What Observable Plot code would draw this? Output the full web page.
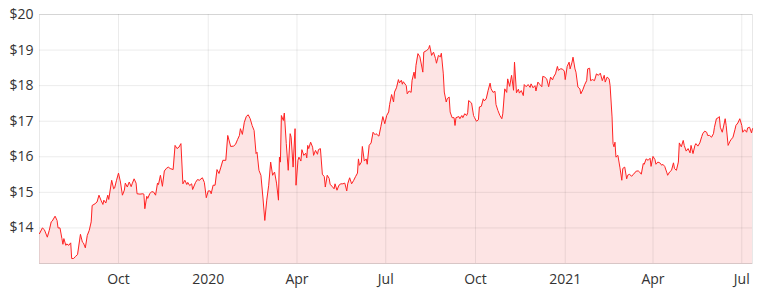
<!DOCTYPE html>
<html>
<head>
<meta charset="utf-8">
<script src="https://cdn.jsdelivr.net/npm/d3@7"></script>
<script src="https://cdn.jsdelivr.net/npm/@observablehq/plot@0.6"></script>
<style>
  html, body { margin: 0; padding: 0; background: #fff; }
  #chart svg { display: block; }
</style>
</head>
<body>
<div id="chart"></div>
<script>
const dates = [
"2019-07-12","2019-07-15","2019-07-17","2019-07-20","2019-07-22","2019-07-24","2019-07-25","2019-07-28","2019-07-30","2019-07-31",
"2019-08-02","2019-08-04","2019-08-05","2019-08-06","2019-08-08","2019-08-09","2019-08-11","2019-08-13","2019-08-14","2019-08-16",
"2019-08-18","2019-08-20","2019-08-23","2019-08-25","2019-08-26","2019-08-28","2019-08-30","2019-09-01","2019-09-03","2019-09-04",
"2019-09-07","2019-09-09","2019-09-11","2019-09-13","2019-09-15","2019-09-16","2019-09-18","2019-09-20","2019-09-21","2019-09-24",
"2019-09-26","2019-09-27","2019-09-29","2019-10-01","2019-10-03","2019-10-05","2019-10-07","2019-10-08","2019-10-10","2019-10-12",
"2019-10-14","2019-10-15","2019-10-17","2019-10-19","2019-10-20","2019-10-23","2019-10-26","2019-10-27","2019-10-28","2019-10-30",
"2019-10-31","2019-11-02","2019-11-04","2019-11-06","2019-11-08","2019-11-10","2019-11-11","2019-11-13","2019-11-15","2019-11-17",
"2019-11-19","2019-11-21","2019-11-23","2019-11-26","2019-11-28","2019-11-30","2019-12-02","2019-12-04","2019-12-06","2019-12-08",
"2019-12-10","2019-12-11","2019-12-13","2019-12-15","2019-12-16","2019-12-19","2019-12-21","2019-12-23","2019-12-26","2019-12-28",
"2019-12-30","2020-01-01","2020-01-03","2020-01-04","2020-01-06","2020-01-08","2020-01-10","2020-01-12","2020-01-14","2020-01-16",
"2020-01-19","2020-01-21","2020-01-24","2020-01-27","2020-01-29","2020-01-31","2020-02-02","2020-02-03","2020-02-05","2020-02-07",
"2020-02-09","2020-02-11","2020-02-13","2020-02-15","2020-02-17","2020-02-19","2020-02-20","2020-02-22","2020-02-24","2020-02-26",
"2020-02-28","2020-03-01","2020-03-03","2020-03-05","2020-03-07","2020-03-09","2020-03-11","2020-03-13","2020-03-14","2020-03-15",
"2020-03-16","2020-03-18","2020-03-19","2020-03-21","2020-03-23","2020-03-25","2020-03-26","2020-03-28","2020-03-30","2020-03-31",
"2020-04-02","2020-04-03","2020-04-05","2020-04-06","2020-04-08","2020-04-10","2020-04-11","2020-04-12","2020-04-13","2020-04-15",
"2020-04-17","2020-04-18","2020-04-20","2020-04-22","2020-04-23","2020-04-25","2020-04-27","2020-04-29","2020-04-30","2020-05-02",
"2020-05-04","2020-05-05","2020-05-07","2020-05-09","2020-05-10","2020-05-12","2020-05-14","2020-05-16","2020-05-18","2020-05-20",
"2020-05-22","2020-05-23","2020-05-25","2020-05-27","2020-05-29","2020-05-31","2020-06-02","2020-06-03","2020-06-04","2020-06-06",
"2020-06-07","2020-06-09","2020-06-11","2020-06-12","2020-06-14","2020-06-16","2020-06-18","2020-06-20","2020-06-21","2020-06-24",
"2020-06-26","2020-06-28","2020-06-30","2020-07-02","2020-07-04","2020-07-05","2020-07-07","2020-07-09","2020-07-10","2020-07-12",
"2020-07-14","2020-07-15","2020-07-17","2020-07-18","2020-07-19","2020-07-22","2020-07-23","2020-07-25","2020-07-27","2020-07-28",
"2020-07-30","2020-07-31","2020-08-01","2020-08-03","2020-08-05","2020-08-08","2020-08-09","2020-08-12","2020-08-14","2020-08-15",
"2020-08-17","2020-08-19","2020-08-21","2020-08-22","2020-08-24","2020-08-26","2020-08-27","2020-08-29","2020-08-30","2020-09-01",
"2020-09-02","2020-09-04","2020-09-05","2020-09-07","2020-09-09","2020-09-10","2020-09-11","2020-09-14","2020-09-15","2020-09-17",
"2020-09-18","2020-09-20","2020-09-22","2020-09-23","2020-09-24","2020-09-27","2020-09-29","2020-09-30","2020-10-02","2020-10-04",
"2020-10-05","2020-10-07","2020-10-09","2020-10-10","2020-10-12","2020-10-14","2020-10-16","2020-10-17","2020-10-19","2020-10-21",
"2020-10-22","2020-10-24","2020-10-26","2020-10-28","2020-10-29","2020-10-31","2020-11-02","2020-11-03","2020-11-05","2020-11-07",
"2020-11-09","2020-11-10","2020-11-12","2020-11-14","2020-11-15","2020-11-17","2020-11-19","2020-11-20","2020-11-22","2020-11-24",
"2020-11-26","2020-11-27","2020-11-29","2020-12-01","2020-12-02","2020-12-04","2020-12-06","2020-12-08","2020-12-09","2020-12-11",
"2020-12-13","2020-12-15","2020-12-17","2020-12-19","2020-12-20","2020-12-22","2020-12-24","2020-12-25","2020-12-27","2020-12-29",
"2020-12-31","2021-01-01","2021-01-03","2021-01-05","2021-01-06","2021-01-08","2021-01-09","2021-01-11","2021-01-12","2021-01-14",
"2021-01-16","2021-01-17","2021-01-19","2021-01-21","2021-01-23","2021-01-24","2021-01-26","2021-01-27","2021-01-29","2021-01-31",
"2021-02-02","2021-02-04","2021-02-06","2021-02-08","2021-02-10","2021-02-11","2021-02-13","2021-02-15","2021-02-16","2021-02-18",
"2021-02-19","2021-02-20","2021-02-21","2021-02-22","2021-02-24","2021-02-26","2021-02-28","2021-03-01","2021-03-03","2021-03-05",
"2021-03-06","2021-03-08","2021-03-10","2021-03-12","2021-03-15","2021-03-17","2021-03-18","2021-03-20","2021-03-22","2021-03-23",
"2021-03-25","2021-03-27","2021-03-29","2021-03-30","2021-04-01","2021-04-03","2021-04-04","2021-04-06","2021-04-08","2021-04-10",
"2021-04-11","2021-04-13","2021-04-15","2021-04-16","2021-04-18","2021-04-20","2021-04-22","2021-04-23","2021-04-25","2021-04-27",
"2021-04-28","2021-04-30","2021-05-02","2021-05-03","2021-05-05","2021-05-07","2021-05-09","2021-05-10","2021-05-12","2021-05-14",
"2021-05-15","2021-05-17","2021-05-19","2021-05-21","2021-05-22","2021-05-24","2021-05-26","2021-05-27","2021-05-29","2021-05-31",
"2021-06-02","2021-06-03","2021-06-05","2021-06-07","2021-06-08","2021-06-09","2021-06-11","2021-06-12","2021-06-14","2021-06-15",
"2021-06-17","2021-06-19","2021-06-20","2021-06-22","2021-06-24","2021-06-25","2021-06-27","2021-06-29","2021-07-01","2021-07-02",
"2021-07-04","2021-07-06","2021-07-07","2021-07-09","2021-07-11","2021-07-12"
];
const prices = [
13.84,14.00,13.95,13.74,13.93,14.17,14.19,14.33,14.21,14.00,
14.00,13.70,13.54,13.70,13.51,13.55,13.51,13.58,13.14,13.14,
13.20,13.25,13.82,13.60,13.58,13.44,13.79,13.93,14.17,14.63,
14.68,14.73,14.92,14.78,14.66,14.78,14.70,14.92,14.80,15.34,
15.10,15.12,15.34,15.54,15.29,14.92,15.06,15.26,15.15,15.29,
15.16,15.24,15.38,15.26,14.96,14.95,14.96,14.95,14.54,14.89,
14.83,14.96,15.02,15.01,14.92,15.26,15.22,15.48,15.17,15.60,
15.67,15.71,15.67,15.64,16.32,16.23,16.27,16.37,15.24,15.34,
15.22,15.28,15.19,15.24,15.08,15.28,15.36,15.34,15.41,15.28,
14.85,15.04,15.04,14.96,15.20,15.20,15.64,15.53,15.71,15.90,
15.90,16.60,16.29,16.30,16.35,16.48,16.60,16.79,16.63,16.97,
17.13,17.18,17.07,16.88,16.74,16.09,16.13,15.62,15.48,14.87,
14.21,14.78,15.20,15.85,15.48,15.57,15.26,14.78,15.99,15.85,
17.16,17.02,17.23,16.37,15.62,16.65,16.55,15.71,16.79,15.20,
15.90,15.99,15.88,16.20,16.04,16.10,15.97,16.32,16.23,16.41,
16.27,16.04,16.18,16.07,16.20,16.23,15.51,15.44,15.15,15.48,
15.39,15.22,15.17,15.10,15.24,15.06,15.20,15.24,15.24,15.26,
15.04,15.24,15.41,15.24,15.33,15.44,15.54,15.94,15.76,15.85,
16.29,15.88,15.94,15.79,16.32,16.39,16.69,16.62,16.65,16.58,
16.85,17.13,16.93,17.16,17.26,17.47,17.75,17.54,17.82,17.94,
18.17,18.08,18.15,18.04,18.11,18.00,17.77,17.85,17.81,18.15,
18.38,18.20,18.57,18.90,18.81,18.38,18.94,18.99,19.04,19.13,
18.85,18.94,18.76,18.63,18.85,18.81,18.91,18.33,17.82,17.54,
17.63,17.68,17.26,17.10,17.10,16.88,17.10,17.13,17.07,17.16,
17.10,17.21,17.16,17.24,17.58,17.51,17.16,17.10,17.00,17.04,
17.40,17.42,17.63,17.57,17.63,17.87,18.07,17.91,17.81,17.84,
17.47,17.30,17.16,17.07,17.21,17.91,17.81,18.19,17.98,18.29,
17.87,18.66,17.80,17.90,17.79,17.86,17.72,18.03,17.97,18.03,
17.95,18.05,17.94,18.00,17.85,18.10,18.03,17.97,18.26,18.24,
18.19,17.97,18.24,18.16,18.24,18.33,18.54,18.43,18.47,18.47,
18.41,18.17,18.54,18.66,18.47,18.66,18.80,18.47,18.38,17.96,
17.91,17.77,17.88,18.03,18.14,18.47,18.49,18.14,18.17,18.14,
18.33,18.29,18.35,18.14,18.29,18.10,18.24,18.19,18.00,17.12,
16.37,16.28,16.41,15.99,16.04,15.71,15.34,15.67,15.71,15.38,
15.48,15.51,15.45,15.51,15.60,15.60,15.58,15.51,15.81,15.79,
15.94,15.90,15.96,15.73,16.01,15.92,15.79,15.85,15.83,15.76,
15.79,15.73,15.57,15.48,15.57,15.62,15.83,15.67,15.62,15.85,
16.39,16.28,16.46,16.32,16.16,16.23,16.11,16.32,16.09,16.32,
16.37,16.30,16.39,16.57,16.65,16.72,16.69,16.60,16.60,16.55,
16.65,16.83,17.07,17.10,17.13,16.83,16.69,16.81,17.07,16.88,
16.32,16.44,16.48,16.55,16.76,16.88,16.95,17.07,16.88,16.69,
16.76,16.69,16.81,16.83,16.67,16.79
];
const xTickDates = ["2019-10-01","2020-01-01","2020-04-01","2020-07-01","2020-10-01","2021-01-01","2021-04-01","2021-07-01"];
const xTickLabels = ["Oct","2020","Apr","Jul","Oct","2021","Apr","Jul"];
const yTicks = [14, 15, 16, 17, 18, 19, 20];
const yMin = 13, yMax = 20;

const data = dates.map((d, i) => ({date: new Date(d), price: prices[i]}));
const xTicks = xTickDates.map(d => new Date(d));

const chart = Plot.plot({
  width: 763,
  height: 294,
  marginLeft: 39,
  marginRight: 11,
  marginTop: 14,
  marginBottom: 31,
  style: {fontFamily: "'Open Sans', sans-serif", fontSize: "14px", color: "#333", background: "#fff"},
  x: {
    type: "utc",
    domain: [data[0].date, data[data.length - 1].date],
    ticks: xTicks,
    tickFormat: d => xTickLabels[xTicks.findIndex(t => +t === +d)],
    tickSize: 0,
    tickPadding: 11,
    label: null
  },
  y: {
    domain: [yMin, yMax],
    ticks: yTicks,
    tickFormat: d => "$" + d,
    tickSize: 0,
    tickPadding: 6,
    label: null
  },
  marks: [
    Plot.areaY(data, {x: "date", y1: yMin, y2: "price", fill: "#fde4e4"}),
    Plot.ruleY(yTicks, {stroke: "#000", strokeOpacity: 0.08}),
    Plot.ruleX(xTicks, {stroke: "#000", strokeOpacity: 0.08}),
    Plot.frame({stroke: "#000", strokeOpacity: 0.09}),
    Plot.ruleY([yMin], {stroke: "#d8c6c6"}),
    Plot.lineY(data, {x: "date", y: "price", stroke: "#ff2222", strokeWidth: 1})
  ]
});
document.getElementById("chart").appendChild(chart);
</script>
</body>
</html>
